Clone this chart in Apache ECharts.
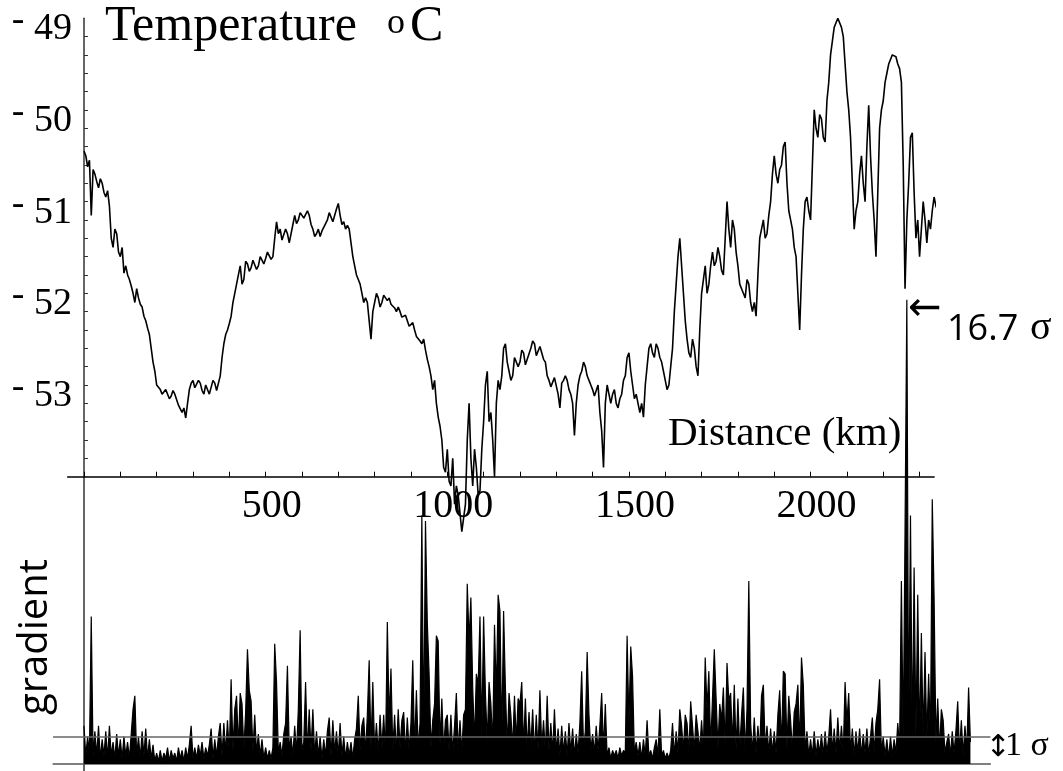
<!DOCTYPE html>
<html><head><meta charset="utf-8">
<script src="https://cdn.jsdelivr.net/npm/echarts@6/dist/echarts.min.js"></script>
<style>html,body{margin:0;padding:0;background:#fff}#c{width:1063px;height:771px}</style>
</head><body><div id="c"></div>
<script>
// Temperature (°C) sampled every 5 km, from 0 km
const tempStepKm = 5;
const temperature = [
-50.45,-50.5,-50.62,-50.55,-51.15,-50.65,-50.7,-50.78,-50.85,-50.75,-50.8,-50.9,-50.95,-50.88,-51.05,-51.4,-51.5,-51.3,-51.35,-51.55,
-51.6,-51.5,-51.78,-51.7,-51.8,-51.85,-51.92,-52.0,-52.1,-51.95,-52.05,-52.12,-52.15,-52.25,-52.3,-52.38,-52.45,-52.6,-52.75,-52.85,
-53.0,-53.02,-53.05,-53.1,-53.1,-53.05,-53.05,-53.15,-53.12,-53.06,-53.1,-53.16,-53.22,-53.26,-53.3,-53.25,-53.36,-53.2,-53.05,-52.98,
-52.95,-53.03,-53.05,-52.95,-52.98,-53.06,-53.1,-53.0,-53.0,-53.1,-53.08,-52.95,-52.98,-53.06,-53.05,-52.9,-52.7,-52.55,-52.45,-52.4,
-52.33,-52.25,-52.1,-52.0,-51.9,-51.8,-51.7,-51.9,-51.85,-51.65,-51.68,-51.76,-51.72,-51.64,-51.65,-51.74,-51.7,-51.6,-51.6,-51.68,
-51.62,-51.55,-51.55,-51.63,-51.6,-51.4,-51.22,-51.35,-51.3,-51.42,-51.4,-51.3,-51.35,-51.45,-51.45,-51.25,-51.15,-51.24,-51.2,-51.12,
-51.1,-51.18,-51.2,-51.1,-51.15,-51.25,-51.3,-51.38,-51.35,-51.3,-51.38,-51.32,-51.3,-51.24,-51.2,-51.12,-51.1,-51.22,-51.2,-51.08,
-51.02,-51.15,-51.25,-51.22,-51.3,-51.26,-51.3,-51.45,-51.6,-51.7,-51.8,-51.85,-51.9,-52.0,-52.1,-52.05,-52.1,-52.3,-52.5,-52.2,
-52.1,-52.0,-52.05,-52.15,-52.1,-52.02,-52.0,-52.08,-52.05,-52.12,-52.1,-52.16,-52.2,-52.15,-52.2,-52.26,-52.28,-52.24,-52.3,-52.36,
-52.35,-52.32,-52.4,-52.47,-52.45,-52.52,-52.55,-52.5,-52.62,-52.72,-52.8,-52.9,-53.05,-52.95,-53.2,-53.35,-53.45,-53.6,-53.9,-53.95,
-53.7,-54.05,-54.1,-53.8,-54.3,-54.1,-54.2,-54.4,-54.6,-54.45,-54.3,-53.6,-53.2,-53.8,-54.1,-53.7,-53.9,-54.2,-54.15,-53.7,
-53.4,-53.0,-52.85,-53.4,-53.3,-53.6,-54.0,-53.2,-52.95,-53.05,-52.9,-52.6,-52.55,-52.75,-52.85,-52.95,-52.9,-52.7,-52.7,-52.8,
-52.75,-52.62,-52.65,-52.78,-52.8,-52.66,-52.6,-52.52,-52.55,-52.68,-52.7,-52.58,-52.6,-52.72,-52.75,-52.9,-52.95,-53.02,-53.0,-52.92,
-52.9,-53.1,-53.25,-52.98,-52.95,-52.9,-52.95,-53.05,-53.1,-53.2,-53.55,-53.2,-53.0,-52.9,-52.85,-52.75,-52.8,-52.9,-52.95,-53.0,
-53.05,-53.12,-53.1,-53.0,-53.3,-53.5,-53.9,-53.2,-53.0,-53.1,-53.2,-53.1,-53.05,-53.2,-53.25,-53.15,-53.1,-52.95,-52.9,-52.7,
-52.65,-52.85,-53.0,-53.15,-53.1,-53.2,-53.3,-53.2,-53.35,-53.0,-52.8,-52.6,-52.55,-52.65,-52.7,-52.55,-52.6,-52.7,-52.75,-52.85,
-52.95,-53.05,-53.0,-52.8,-52.6,-52.2,-51.9,-51.6,-51.4,-51.7,-52.0,-52.3,-52.5,-52.65,-52.7,-52.5,-52.6,-52.8,-52.9,-52.4,
-52.0,-51.85,-51.7,-52.0,-51.9,-51.7,-51.55,-51.7,-51.65,-51.5,-51.6,-51.75,-51.8,-51.4,-51.0,-51.3,-51.5,-51.2,-51.3,-51.55,
-51.7,-51.9,-51.95,-52.0,-52.05,-51.85,-51.9,-52.1,-52.2,-52.1,-52.25,-51.8,-51.4,-51.3,-51.2,-51.4,-51.35,-51.15,-51.0,-50.7,
-50.5,-50.7,-50.8,-50.65,-50.6,-50.4,-50.35,-50.8,-51.1,-51.2,-51.3,-51.5,-51.6,-52.0,-52.4,-51.8,-51.3,-51.0,-50.95,-51.1,
-51.2,-50.6,-50.0,-50.2,-50.3,-50.05,-50.1,-50.3,-50.35,-49.9,-49.7,-49.4,-49.25,-49.1,-49.05,-49.0,-49.0,-49.1,-49.2,-49.5,
-49.8,-50.0,-50.3,-50.8,-51.3,-51.1,-51.0,-50.7,-50.5,-50.8,-51.0,-50.4,-49.95,-50.5,-50.9,-51.2,-51.6,-50.9,-50.2,-50.0,
-49.9,-49.7,-49.6,-49.5,-49.45,-49.4,-49.38,-49.42,-49.5,-49.55,-49.7,-50.6,-51.95,-51.2,-50.8,-50.3,-50.25,-50.9,-51.4,-51.2,
-51.6,-51.3,-51.0,-51.2,-51.45,-51.2,-51.3,-51.1,-50.95,-51.05,-51.1,-50.85,-50.9,-51.0,-51.05,-50.8,-50.6,-50.7,-50.8,-50.55,
-50.4,-50.5,-50.6,-50.4,-50.3,-50.5,-50.7,-50.75
];
// Gradient (in units of sigma) sampled every 5 km, from 0 km
const gradStepKm = 5;
const gradient = [
1.4,0.3,1.0,0.4,5.4,0.3,1.2,0.3,1.4,0.2,0.9,0.3,1.2,0.2,1.4,0.3,0.8,0.2,1.1,0.3,
0.9,0.2,1.0,0.3,0.8,0.2,1.1,2.0,2.5,0.3,1.0,0.2,1.2,0.3,1.3,0.2,0.9,0.2,0.7,0.1,
0.4,0.1,0.5,0.1,0.4,0.2,0.6,0.1,0.5,0.2,0.4,0.1,0.6,0.2,0.5,0.1,0.6,0.2,0.7,1.4,
0.2,0.6,0.2,0.7,0.3,0.8,0.2,0.6,0.3,0.7,1.3,0.2,0.9,0.3,1.0,1.5,0.3,1.5,0.4,1.6,
0.4,3.1,0.5,2.0,2.5,0.6,2.6,2.2,0.5,1.9,4.2,2.7,2.3,0.5,1.8,0.4,1.1,0.3,0.9,0.2,
0.6,0.2,0.5,0.2,0.6,4.4,3.0,0.4,0.8,0.3,1.1,1.5,3.6,0.5,1.0,0.3,1.4,0.4,2.0,4.9,
0.5,0.8,3.0,0.4,2.0,0.5,2.0,0.3,1.2,0.3,1.0,0.2,0.9,0.3,1.2,1.7,0.3,1.6,0.4,1.2,
0.3,1.5,0.3,1.0,0.2,0.8,0.3,0.8,0.2,0.9,1.3,2.5,0.5,1.4,1.7,0.4,1.8,3.8,0.6,3.0,
0.5,1.5,0.4,1.8,0.6,1.8,0.4,5.2,1.6,3.5,0.5,1.8,0.4,2.0,0.6,1.6,1.9,0.4,1.7,0.5,
1.5,3.8,0.5,2.7,0.6,1.5,9.1,0.8,8.9,5.2,3.3,0.6,1.6,2.2,4.7,4.5,0.7,2.4,0.5,1.6,
1.8,0.5,1.8,0.4,1.4,2.6,0.5,1.6,0.4,1.8,2.0,6.6,4.5,6.1,2.8,0.8,3.3,2.9,5.4,1.0,
5.4,2.6,0.8,3.0,2.2,0.7,5.1,2.5,6.2,5.6,0.8,5.6,2.8,0.6,2.6,1.8,0.6,2.5,0.8,2.4,
2.2,3.0,0.6,2.4,0.5,1.9,0.6,2.0,0.4,1.8,0.5,2.7,0.6,1.6,0.4,2.5,0.5,1.5,0.4,2.0,
0.4,1.3,0.3,1.4,0.4,1.2,0.3,1.5,0.4,1.3,0.3,1.1,0.4,1.5,3.4,0.6,1.2,4.1,1.8,0.5,
1.1,0.4,1.4,0.5,1.4,2.6,0.5,2.2,0.3,0.6,0.2,0.5,0.3,0.5,0.2,0.6,0.3,0.5,0.4,4.7,
1.5,4.3,3.2,0.4,0.8,0.3,0.8,0.2,0.9,0.3,1.6,0.3,0.5,0.2,0.6,0.9,0.3,2.0,0.3,0.5,
0.2,0.4,0.2,0.5,1.5,0.3,1.2,0.4,2.0,1.4,0.5,1.8,1.5,0.4,2.3,1.4,0.5,1.8,1.2,0.5,
1.6,0.5,3.9,2.0,3.4,0.6,2.4,4.2,2.4,0.6,2.2,1.6,2.8,0.6,3.7,2.3,2.6,0.7,2.9,0.5,
2.4,0.5,1.8,2.8,0.4,2.0,6.7,1.5,0.4,1.7,0.4,1.4,0.5,2.5,2.9,0.6,1.4,0.4,1.3,0.4,
1.2,0.4,1.8,2.7,0.6,3.4,3.3,0.6,2.5,1.6,0.5,1.9,2.2,2.9,0.6,3.9,2.9,0.5,1.2,0.3,
0.9,0.3,1.2,0.3,0.9,0.4,1.1,0.3,1.2,0.4,1.0,2.0,0.4,1.3,0.4,1.7,0.5,1.4,0.4,3.0,
1.5,2.6,0.4,1.3,0.3,1.2,0.4,1.3,0.3,1.1,0.4,1.3,0.3,1.0,1.7,0.4,1.5,2.0,3.1,0.4,
1.0,0.3,0.9,0.2,1.0,0.3,0.9,0.4,1.5,0.6,6.7,0.8,8.5,17,0.9,9.1,0.8,7.2,1.0,6.2,
0.8,4.8,1.0,4.1,0.9,3.3,1.0,9.7,6.1,0.8,2.4,0.5,2.0,1.6,0.4,0.8,1.1,0.3,1.2,0.4,
1.2,2.3,0.4,1.6,0.3,1.4,0.5,2.8,0.8
];
const xTickLabels = [500, 1000, 1500, 2000];
const yTickLabels = [-53, -52, -51, -50, -49];
const sigmaLevel = 1;

const xMinorTicks = []; for (let k = 0; k <= 2300; k += 100) xMinorTicks.push(k);
const yMinorTicks = []; for (let i = 0; i < 25; i++) yMinorTicks.push(+(-54 + i * 0.2).toFixed(1));

const tempData = temperature.map((v, i) => [i * tempStepKm, v]);
const gradData = gradient.map((v, i) => [i * gradStepKm, v]);

const chart = echarts.init(document.getElementById('c'), null, {renderer: 'canvas'});
const serif = '"Liberation Serif", "Times New Roman", serif';
const hidden = {axisLine: {show: false}, axisTick: {show: false}, axisLabel: {show: false}, splitLine: {show: false}};
chart.setOption({
  animation: false,
  backgroundColor: '#fff',
  grid: [
    {left: 67.65, width: 866.5, top: 18.2, height: 458.5, outerBoundsMode: 'none', containLabel: false},
    {left: 84, width: 850.1, top: 18.2, height: 458.5, outerBoundsMode: 'none', containLabel: false},
    {left: 53.1, width: 937.3, top: 477.3, height: 293.5, outerBoundsMode: 'none', containLabel: false}
  ],
  xAxis: [
    {type: 'value', gridIndex: 0, min: -45, max: 2340, position: 'bottom',
     axisLine: {show: true, onZero: false, lineStyle: {color: '#000', width: 1.5}},
     axisTick: {show: true, inside: true, length: 5, customValues: xMinorTicks, lineStyle: {color: '#000', width: 1}},
     axisLabel: {show: true, customValues: xTickLabels, formatter: v => String(v), fontFamily: serif, fontSize: 40, color: '#000', margin: 10, padding: [0, 0, 0, 12]},
     splitLine: {show: false}},
    Object.assign({type: 'value', gridIndex: 1, min: 0, max: 2340}, hidden),
    {type: 'value', gridIndex: 2, min: -85, max: 2495,
     axisLine: {show: true, onZero: true, lineStyle: {color: '#555', width: 1.5}},
     axisTick: {show: false}, axisLabel: {show: false}, splitLine: {show: false}}
  ],
  yAxis: [
    Object.assign({type: 'value', gridIndex: 0, min: -54, max: -49}, hidden),
    {type: 'value', gridIndex: 1, min: -54, max: -49, position: 'left',
     axisLine: {show: true, onZero: false, lineStyle: {color: '#333', width: 1.5}},
     axisTick: {show: true, inside: true, length: 4, customValues: yMinorTicks, lineStyle: {color: '#333', width: 1}},
     axisLabel: {show: true, customValues: yTickLabels, fontFamily: serif, fontSize: 38, color: '#000', margin: 12,
       padding: [22, 0, 0, 0],
       formatter: v => '{m|-} ' + Math.abs(v),
       rich: {m: {fontFamily: serif, fontSize: 38, color: '#000', padding: [0, 0, 16, 0]}}},
     splitLine: {show: false}},
    {type: 'value', gridIndex: 2, min: -0.25, max: 10.5,
     axisLine: {show: true, onZero: true, lineStyle: {color: '#333', width: 1.5}},
     axisTick: {show: false}, axisLabel: {show: false}, splitLine: {show: false}}
  ],
  series: [
    {type: 'line', xAxisIndex: 1, yAxisIndex: 1, data: tempData, showSymbol: false, symbol: 'none',
     clip: false, silent: true, lineStyle: {color: '#000', width: 1.6}},
    {type: 'line', xAxisIndex: 2, yAxisIndex: 2, data: gradData, showSymbol: false, symbol: 'none',
     clip: false, silent: true, lineStyle: {color: '#000', width: 1.2},
     areaStyle: {color: '#000', opacity: 1},
     markLine: {silent: true, symbol: 'none', label: {show: false},
       lineStyle: {color: '#666', width: 1.5, type: 'solid'}, data: [{yAxis: sigmaLevel}]}}
  ],
  graphic: [
    {type: 'text', x: 105, y: 27, style: {text: 'Temperature', font: '50px ' + serif, fill: '#000', textAlign: 'left', textVerticalAlign: 'middle'}},
    {type: 'text', x: 387, y: 24, style: {text: 'o', font: '36px ' + serif, fill: '#000', textAlign: 'left', textVerticalAlign: 'middle'}},
    {type: 'text', x: 410, y: 27, style: {text: 'C', font: '50px ' + serif, fill: '#000', textAlign: 'left', textVerticalAlign: 'middle'}},
    {type: 'text', x: 668, y: 434, style: {text: 'Distance (km)', font: '41px ' + serif, fill: '#000', textAlign: 'left', textVerticalAlign: 'middle'}},
    {type: 'text', x: 908, y: 310, style: {text: '←', font: '40px "DejaVu Sans"', fill: '#000', textAlign: 'left', textVerticalAlign: 'middle'}},
    {type: 'text', x: 947, y: 330, style: {text: '16.7', font: '36px "Open Sans"', fill: '#000', textAlign: 'left', textVerticalAlign: 'middle'}},
    {type: 'text', x: 1030, y: 328, style: {text: 'σ', font: '40px ' + serif, fill: '#000', textAlign: 'left', textVerticalAlign: 'middle'}},
    {type: 'text', x: 998, y: 748, style: {text: '↕', font: '30px "DejaVu Sans"', fill: '#000', textAlign: 'center', textVerticalAlign: 'middle'}},
    {type: 'text', x: 1005, y: 746, style: {text: '1 σ', font: '34px ' + serif, fill: '#000', textAlign: 'left', textVerticalAlign: 'middle'}},
    {type: 'text', x: 36, y: 637, rotation: Math.PI / 2, style: {text: 'gradient', font: '40px "Open Sans"', fill: '#000', textAlign: 'center', textVerticalAlign: 'middle'}}
  ]
});
</script></body></html>
